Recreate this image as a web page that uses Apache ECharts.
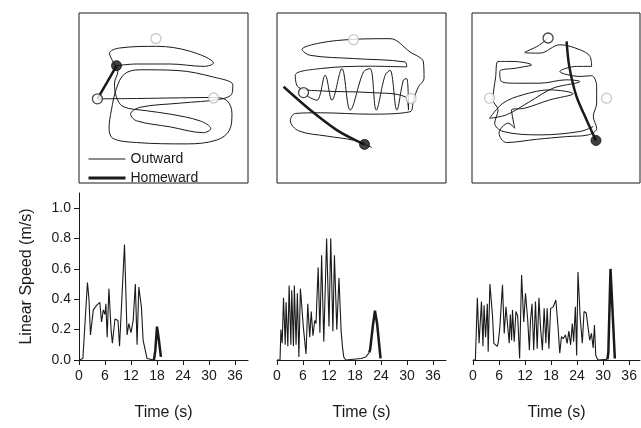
<!DOCTYPE html>
<html>
<head>
<meta charset="utf-8" />
<title>Trajectories and linear speed</title>
<script src="https://cdn.jsdelivr.net/npm/echarts@6/dist/echarts.min.js"></script>
<style>
  html, body { margin: 0; padding: 0; background: #fff; }
  #main { width: 641px; height: 428px; }
</style>
</head>
<body>
<div id="main"></div>
<script>
// trajectories, box coordinates 0-100 (x right, y up)
var outward1 = [[10.9,49.5],[34,49.7],[60,50.1],[79.6,50.3],[87.5,48.5],[90.5,41],[89,31],[81.6,25.3],[64,23],[34,23.8],[20,26.3],[17.8,32.2],[19.2,43],[22.2,55.8],[27,64.2],[36,66.6],[58,66.2],[79.6,62.3],[91,57.8],[90.5,52.5],[83.6,49.3],[60,47],[36,44.5],[30.5,40.5],[34,36.6],[54,33],[73.7,29.6],[78,32],[71.7,36.5],[54,40.5],[40,42.5],[26,45],[22,51],[21,58.8],[23,65.6],[20,71.5],[18,76.4],[24,79.4],[46,80.4],[66,77.4],[79.6,70.5],[74,68.6],[54,70],[34,70],[22.2,69]];
var homeward1 = [[22.2,69],[16.5,59],[10.9,49.5]];
var landmarks1 = [[45.5,85],[79.6,50]];
var start1 = [[10.9,49.5]];
var end1 = [[22.2,69]];

var outward2 = [[15.7,53.2],[18.7,50.7],[23.6,48.7],[28.5,63.4],[32.5,48.7],[38.4,67.3],[43.3,42.9],[51.2,65.4],[55.1,67.3],[58.7,42.9],[64,63.4],[66.9,66.3],[70.9,42.9],[74.8,60.5],[76.8,61.4],[77.8,42.9],[75.8,50.7],[55.1,53.2],[25.6,54.2],[12.8,56.2],[10.8,63.4],[25.6,67.3],[55.1,68.7],[76.8,68.3],[75.8,71.2],[45.3,73.2],[19.7,75.1],[14.8,78.5],[25.6,82.4],[45.3,84.5],[66.9,84.9],[78.7,77.1],[86.6,71.2],[87,61.4],[83.7,56.6],[80.7,48.7],[78.7,41.9],[55.1,40.5],[25.6,41.3],[10.8,40.9],[7.9,36.6],[12.8,30.7],[29.5,27.6],[45.3,25.2],[51.8,22.7],[56.1,20.9]];
var homeward2 = [[3.9,56.6],[19.7,42.9],[35.4,31.1],[46.3,25.2],[51.8,22.7]];
var landmarks2 = [[45.3,84.3],[79.3,49.7]];
var start2 = [[15.7,53.2]];
var end2 = [[51.8,22.7]];

var outward3 = [[45.3,85.3],[39.4,80.7],[31.4,76.8],[40.4,76.4],[52.3,81.3],[64.2,78.4],[70.2,74.5],[71.2,68.6],[62.2,68.6],[52.3,65.6],[64.2,62.7],[71.2,63.1],[74.2,56.8],[74.2,47],[72.2,39.1],[74.2,32.2],[69.2,28.3],[56.3,27.3],[38.4,25.7],[20.5,23.8],[16.1,29.3],[21.5,35.2],[25.4,32.2],[23.5,43],[31.4,44],[46.3,48.9],[60.2,52.5],[46.3,54.8],[30.4,51.9],[18.5,47],[10.5,38.1],[20.5,40.1],[34.4,47.9],[48.3,55.8],[64.2,59.7],[56.3,60.7],[40.4,58.7],[26.4,58.7],[17.5,59.7],[16.5,65.6],[26.4,67.6],[35.4,69.5],[24.5,71.5],[15.5,71.5],[14.1,62.7],[12.5,48.9],[15.5,43],[13.5,35.2],[18.5,30.3],[40.4,28.3],[64.2,30.3],[72.2,33.2]];
var homeward3 = [[56.3,83.3],[57.9,68.6],[62.2,50.9],[68.2,37.1],[73.8,25]];
var landmarks3 = [[10.5,49.9],[80.1,49.9]];
var start3 = [[45.3,85.3]];
var end3 = [[73.8,25]];

// linear speed, [time s, speed m/s]
var speedOut1 = [[0,0],[0.9,0.01],[1.5,0.3],[1.95,0.51],[2.3,0.4],[2.65,0.165],[3.3,0.33],[4.05,0.36],[4.4,0.35],[4.8,0.38],[5.2,0.25],[5.6,0.33],[6.0,0.30],[6.2,0.37],[6.5,0.15],[6.9,0.47],[7.4,0.2],[7.7,0.11],[8.3,0.27],[8.7,0.26],[9.0,0.26],[9.35,0.09],[9.8,0.35],[10.5,0.76],[11.1,0.165],[11.5,0.24],[12.0,0.18],[12.5,0.26],[13.0,0.50],[13.4,0.1],[13.8,0.48],[14.4,0.35],[14.8,0.13],[15.2,0.14],[15.7,0.01],[17.3,0.0]];
var speedHome1 = [[17.3,0],[17.6,0.06],[18.0,0.22],[18.4,0.14],[18.9,0.02]];

var speedOut2 = [[0,0],[0.7,0],[0.9,0.2],[1.2,0.11],[1.5,0.41],[1.9,0.1],[2.1,0.38],[2.5,0.09],[2.8,0.49],[3.2,0.1],[3.4,0.46],[3.8,0.09],[4.0,0.49],[4.4,0.1],[4.7,0.44],[5.05,0.02],[5.4,0.47],[6.1,0.21],[6.7,0.04],[7.1,0.37],[7.55,0.15],[7.9,0.32],[8.3,0.16],[8.7,0.26],[9.0,0.24],[9.5,0.61],[9.9,0.18],[10.3,0.69],[10.8,0.12],[11.45,0.8],[12.0,0.22],[12.4,0.8],[12.9,0.19],[13.25,0.69],[13.8,0.2],[14.3,0.54],[14.8,0.19],[15.1,0.09],[15.4,0.02],[15.9,0.0],[19.4,0.01],[20.5,0.02],[21.3,0.05]];
var speedHome2 = [[21.3,0.05],[21.5,0.07],[22.1,0.22],[22.6,0.325],[23.1,0.24],[23.9,0.01]];

var speedOut3 = [[0,0],[0.55,0],[1.0,0.41],[1.4,0.11],[1.95,0.385],[2.3,0.09],[2.55,0.36],[2.9,0.15],[3.3,0.37],[3.5,0.055],[3.9,0.5],[4.5,0.29],[4.8,0.11],[5.2,0.12],[5.6,0.09],[5.85,0.12],[6.2,0.22],[6.8,0.495],[7.2,0.175],[7.6,0.35],[8.0,0.34],[8.35,0.11],[8.6,0.3],[8.9,0.13],[9.1,0.33],[9.5,0.12],[9.9,0.32],[10.3,0.29],[10.75,0.01],[11.2,0.56],[11.7,0.25],[12.1,0.44],[12.6,0.27],[13.0,0.065],[13.25,0.26],[13.6,0.37],[14.0,0.065],[14.4,0.385],[14.8,0.075],[15.2,0.41],[15.6,0.2],[16.0,0.065],[16.4,0.34],[16.8,0.11],[17.1,0.34],[17.5,0.075],[17.9,0.34],[18.5,0.35],[19.1,0.395],[19.6,0.22],[20.0,0.045],[20.4,0.155],[20.8,0.14],[21.3,0.165],[21.7,0.11],[22.1,0.19],[22.5,0.1],[22.9,0.24],[23.2,0.12],[23.6,0.35],[23.9,0.03],[24.2,0.58],[24.7,0.285],[25.2,0.11],[25.6,0.32],[26.1,0.31],[26.5,0.31],[26.9,0.13],[27.3,0.175],[27.7,0.08],[28.0,0.23],[28.3,0.03],[28.8,0.0],[31.0,0.005]];
var speedHome3 = [[31.0,0.005],[31.2,0.05],[31.7,0.6],[32.1,0.6],[32.7,0.01]];

var timeTicks = [0, 6, 12, 18, 24, 30, 36];
var speedTicks = [0, 0.2, 0.4, 0.6, 0.8, 1.0];

var trajOut = [outward1, outward2, outward3];
var trajHome = [homeward1, homeward2, homeward3];
var landmarks = [landmarks1, landmarks2, landmarks3];
var starts = [start1, start2, start3];
var ends = [end1, end2, end3];
var speedOut = [speedOut1, speedOut2, speedOut3];
var speedHome = [speedHome1, speedHome2, speedHome3];

var ink = '#1a1a1a';
var font = 'Liberation Sans, Arial, sans-serif';

var topBoxes = [[79, 13, 169, 170], [277, 13, 169, 170], [472, 13, 168, 170]];
var bottomBoxes = [[79, 193, 169, 167], [277, 193, 169, 167], [473, 193, 167, 167]];

var grids = [], xAxes = [], yAxes = [], series = [];

topBoxes.forEach(function (b) {
  grids.push({ left: b[0], top: b[1], width: b[2], height: b[3], show: true,
    borderColor: ink, borderWidth: 1, backgroundColor: 'transparent' });
});
bottomBoxes.forEach(function (b) {
  grids.push({ left: b[0], top: b[1], width: b[2], height: b[3] });
});

for (var i = 0; i < 3; i++) {
  xAxes.push({ gridIndex: i, type: 'value', min: 0, max: 100, show: false });
  yAxes.push({ gridIndex: i, type: 'value', min: 0, max: 100, show: false });
}
for (var j = 0; j < 3; j++) {
  xAxes.push({
    gridIndex: 3 + j, type: 'value', min: 0, max: j === 2 ? 38.5 : 39,
    name: 'Time (s)', nameLocation: 'middle', nameGap: 45,
    nameTextStyle: { fontFamily: font, fontSize: 16, color: ink },
    axisLine: { lineStyle: { color: ink, width: 1 } },
    axisTick: { show: true, length: 5, customValues: timeTicks, lineStyle: { color: ink } },
    axisLabel: { customValues: timeTicks, fontFamily: font, fontSize: 14, color: ink, margin: 9 },
    splitLine: { show: false }
  });
  yAxes.push({
    gridIndex: 3 + j, type: 'value', min: 0, max: 1.1,
    show: j === 0,
    name: j === 0 ? 'Linear Speed (m/s)' : '', nameLocation: 'middle', nameGap: 44,
    nameTextStyle: { fontFamily: font, fontSize: 16, color: ink },
    axisLine: { show: true, lineStyle: { color: ink, width: 1 } },
    axisTick: { show: true, length: 5, customValues: speedTicks, lineStyle: { color: ink } },
    axisLabel: { customValues: speedTicks, fontFamily: font, fontSize: 14, color: ink, margin: 8,
      formatter: function (v) { return v.toFixed(1); } },
    splitLine: { show: false }
  });
}

// trajectories first so legend picks up their styles
for (var k = 0; k < 3; k++) {
  series.push({ name: 'Outward', type: 'line', xAxisIndex: k, yAxisIndex: k, data: trajOut[k],
    smooth: 0.35, symbol: 'none', itemStyle: { color: ink }, lineStyle: { color: ink, width: 1 }, z: 2 });
  series.push({ name: 'Homeward', type: 'line', xAxisIndex: k, yAxisIndex: k, data: trajHome[k],
    smooth: 0.3, symbol: 'none', itemStyle: { color: ink }, lineStyle: { color: ink, width: 2.5 }, z: 3 });
  series.push({ name: 'landmark', type: 'scatter', xAxisIndex: k, yAxisIndex: k, data: landmarks[k],
    symbolSize: 10, itemStyle: { color: '#fff', borderColor: '#bdbdbd', borderWidth: 1.3 }, z: 4 });
  series.push({ name: 'start', type: 'scatter', xAxisIndex: k, yAxisIndex: k, data: starts[k],
    symbolSize: 10, itemStyle: { color: '#fff', borderColor: ink, borderWidth: 1.3 }, z: 5 });
  series.push({ name: 'end', type: 'scatter', xAxisIndex: k, yAxisIndex: k, data: ends[k],
    symbolSize: 10, itemStyle: { color: '#111', borderColor: '#111', borderWidth: 1 }, z: 5 });
}
for (var m = 0; m < 3; m++) {
  series.push({ name: 'Outward', type: 'line', xAxisIndex: 3 + m, yAxisIndex: 3 + m, data: speedOut[m],
    symbol: 'none', itemStyle: { color: ink }, lineStyle: { color: ink, width: 1.1 } });
  series.push({ name: 'Homeward', type: 'line', xAxisIndex: 3 + m, yAxisIndex: 3 + m, data: speedHome[m],
    symbol: 'none', itemStyle: { color: ink }, lineStyle: { color: ink, width: 2.5 } });
}

var chart = echarts.init(document.getElementById('main'));
chart.setOption({
  animation: false,
  backgroundColor: '#fff',
  legend: {
    data: [
      { name: 'Outward', lineStyle: { color: ink, width: 1 } },
      { name: 'Homeward', lineStyle: { color: ink, width: 3 } }
    ],
    orient: 'vertical', left: 82, top: 147,
    itemWidth: 37, itemHeight: 14, itemGap: 5,
    selectedMode: false,
    itemStyle: { opacity: 0 },
    textStyle: { fontFamily: font, fontSize: 14, color: ink }
  },
  grid: grids,
  xAxis: xAxes,
  yAxis: yAxes,
  series: series
});
</script>
</body>
</html>
